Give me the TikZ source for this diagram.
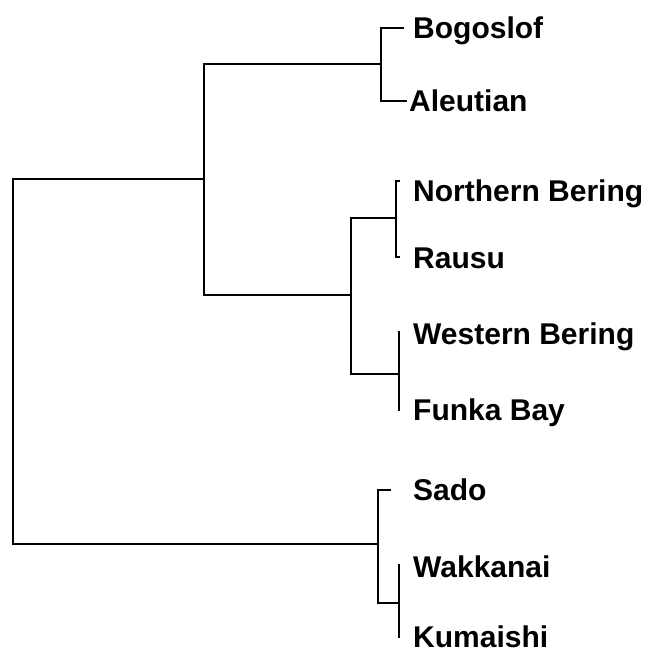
\documentclass[tikz,border=0pt]{standalone}
\usepackage{fontspec}
\setmainfont{Liberation Sans}
\begin{document}
\begin{tikzpicture}[x=1pt,y=-1pt,
  branch/.style={line width=2pt,line cap=rect,line join=miter},
  leaf/.style={anchor=west,inner sep=0pt,text height=21pt,text depth=0pt,
    font=\fontsize{30}{32}\selectfont\bfseries}]
\useasboundingbox (0,0) rectangle (658,657);

% taxa
\node[leaf] (bog) at (413,28)  {Bogoslof};
\node[leaf] (ale) at (409,101) {Aleutian};
\node[leaf] (nbe) at (413,191) {Northern Bering};
\node[leaf] (rau) at (413,258) {Rausu};
\node[leaf] (wbe) at (413,334) {Western Bering};
\node[leaf] (fun) at (413,410) {Funka Bay};
\node[leaf] (sad) at (413,490) {Sado};
\node[leaf] (wak) at (413,567) {Wakkanai};
\node[leaf] (kum) at (413,637) {Kumaishi};

% junctions
\coordinate (jRoot) at (13,361);
\coordinate (jA)    at (204,179);
\coordinate (jB)    at (351,295);
\coordinate (jBA)   at (381,64);
\coordinate (jNR)   at (396,218);
\coordinate (jWF)   at (399,374);
\coordinate (jSK)   at (378,544);
\coordinate (jWK)   at (399,603);

% tips of the branches
\coordinate (tNBa) at (399,181);
\coordinate (tNBb) at (399,257);
\coordinate (tWFa) at (399,332);
\coordinate (tWFb) at (399,410);
\coordinate (tWKa) at (399,565);
\coordinate (tWKb) at (399,637);

% tree
\draw[branch] (jA) -| (jRoot) |- (jSK);
\draw[branch] (jBA) -| (jA) |- (jB);
\draw[branch] (jNR) -| (jB) |- (jWF);
\draw[branch] ([xshift=-10pt]bog.west) -| (jBA) |- ([xshift=-3pt]ale.west);
\draw[branch] (tNBa) -| (jNR) |- (tNBb);
\draw[branch] (jNR) -- (jB |- jNR);
\draw[branch] (tWFa) -- (tWFb);
\draw[branch] ([xshift=-23pt]sad.west) -| (jSK) |- (jWK);
\draw[branch] (tWKa) -- (tWKb);
\end{tikzpicture}
\end{document}
